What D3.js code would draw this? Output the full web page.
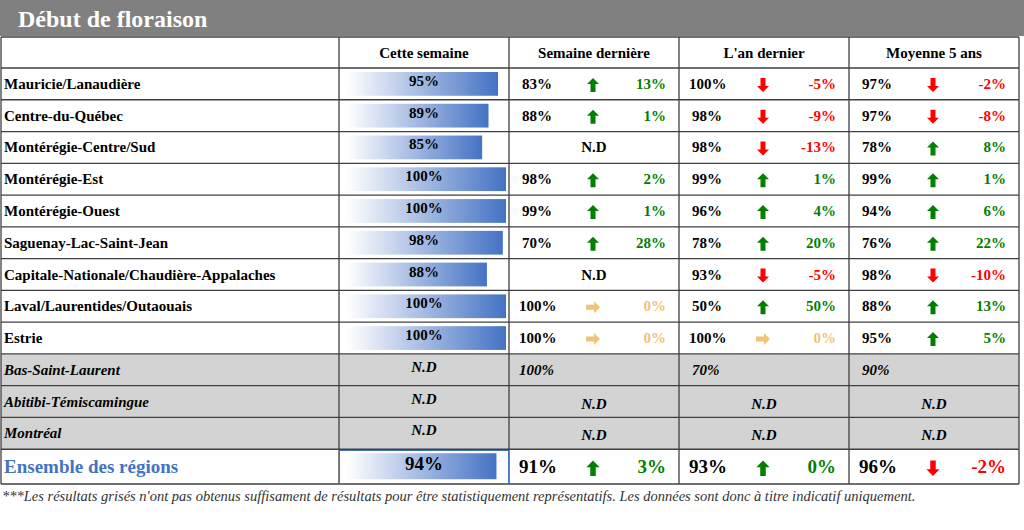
<!DOCTYPE html>
<html><head><meta charset="utf-8">
<script src="https://cdn.jsdelivr.net/npm/d3@7"></script>
<style>body{margin:0;background:#fff}svg{font-family:"Liberation Serif","Times New Roman",serif;font-weight:bold}</style>
</head><body><svg id="c" width="1024" height="530"></svg>
<script>
var regions = ["Mauricie/Lanaudière","Centre-du-Québec","Montérégie-Centre/Sud","Montérégie-Est","Montérégie-Ouest","Saguenay-Lac-Saint-Jean","Capitale-Nationale/Chaudière-Appalaches","Laval/Laurentides/Outaouais","Estrie","Bas-Saint-Laurent","Abitibi-Témiscamingue","Montréal","Ensemble des régions"]
var grayed = [false,false,false,false,false,false,false,false,false,true,true,true,false]
var thisWeek = [95,89,85,100,100,98,88,100,100,null,null,null,94]
// previous values and differences; null = N.D
var lastWeek = [83,88,null,98,99,70,null,100,100,100,null,null,91]
var lastWeekDiff = [13,1,null,2,1,28,null,0,0,null,null,null,3]
var lastYear = [100,98,98,99,96,78,93,50,100,70,null,null,93]
var lastYearDiff = [-5,-9,-13,1,4,20,-5,50,0,null,null,null,0]
var avg5 = [97,97,78,99,94,76,98,88,95,90,null,null,96]
var avg5Diff = [-2,-8,8,1,6,22,-10,13,5,null,null,null,-2]
// arrow direction: 1 up, -1 down, 0 right
var lastWeekDir = [1,1,null,1,1,1,null,0,0,null,null,null,1]
var lastYearDir = [-1,-1,-1,1,1,1,-1,1,0,null,null,null,1]
var avg5Dir = [-1,-1,1,1,1,1,-1,1,1,null,null,null,-1]
var headers = ["Cette semaine","Semaine dernière","L'an dernier","Moyenne 5 ans"]

var svg = d3.select("#c")
var colX = [1,339,509,679,849,1019]
var y = d3.scaleBand().domain(d3.range(regions.length)).range([68,484]).paddingInner(0)
function rowH(i){ return i==12 ? 34 : 31.77 }
function rowY(i){ return 68 + i*31.77 }
var barW = d3.scaleLinear().domain([0,100]).range([0,159])

var defs = svg.append("defs")
var g = defs.append("linearGradient").attr("id","bg")
g.append("stop").attr("offset","0%").attr("stop-color","#ffffff")
g.append("stop").attr("offset","100%").attr("stop-color","#4472c4")

svg.append("rect").attr("x",0).attr("y",0).attr("width",1024).attr("height",36).attr("fill","#808080")
svg.append("text").attr("x",18).attr("y",27).attr("fill","#fff").attr("font-size",24).text("Début de floraison")

// header
headers.forEach(function(h,k){
  svg.append("text").attr("x",(colX[k+1]+colX[k+2])/2).attr("y",58).attr("text-anchor","middle").attr("font-size",15).text(h)
})

var green="#008000", red="#ff0000", yellow="#f0c27a"
function arrow(cx,cy,dir,s){
  var col = dir==1?green:dir==-1?red:yellow
  var p = "M0,-7 L6,-1 L2.5,-1 L2.5,7 L-2.5,7 L-2.5,-1 L-6,-1 Z"
  var rot = dir==1?0:dir==-1?180:90
  svg.append("path").attr("d",p).attr("fill",col)
    .attr("transform","translate("+cx+","+cy+") rotate("+rot+") scale("+s+")")
  return col
}

regions.forEach(function(r,i){
  var y0 = rowY(i), h = rowH(i), big = i==12
  var fs = big?19:15, ty = y0 + h/2 + (big?7:5)
  if (grayed[i]) svg.append("rect").attr("x",1).attr("y",y0).attr("width",1018).attr("height",h).attr("fill","#d3d3d3")
  svg.append("text").attr("x",4).attr("y",ty).attr("font-size",big?19:15)
    .attr("fill",big?"#4472c4":"#000").attr("font-style",grayed[i]?"italic":null).text(r)
  // this week
  if (thisWeek[i]!=null){
    svg.append("rect").attr("x",347).attr("y",y0+4).attr("width",barW(thisWeek[i])).attr("height",h-8).attr("fill","url(#bg)")
    svg.append("text").attr("x",424).attr("y",y0+h/2+(big?4:2)).attr("text-anchor","middle").attr("font-size",fs).text(thisWeek[i]+"%")
  } else {
    svg.append("text").attr("x",424).attr("y",y0+h/2+2).attr("text-anchor","middle").attr("font-style","italic").attr("font-size",15).text("N.D")
  }
  var sets = [[lastWeek,lastWeekDiff,lastWeekDir],[lastYear,lastYearDiff,lastYearDir],[avg5,avg5Diff,avg5Dir]]
  sets.forEach(function(s,k){
    var x0 = colX[k+2], x1 = colX[k+3], v = s[0][i]
    if (v==null){
      svg.append("text").attr("x",(x0+x1)/2).attr("y",ty+(grayed[i]?2:0)).attr("text-anchor","middle")
        .attr("font-style",grayed[i]?"italic":null).attr("font-size",15).text("N.D")
      return
    }
    svg.append("text").attr("x",x0+(v==100||big?10:13)).attr("y",ty).attr("font-size",fs)
      .attr("font-style",grayed[i]?"italic":null).text(v+"%")
    if (s[2][i]!=null){
      var col = arrow(x0+84,y0+h/2+(big?2:1),s[2][i],big?1.1:1)
      svg.append("text").attr("x",x1-13).attr("y",ty).attr("text-anchor","end").attr("font-size",fs)
        .attr("fill",col).text(s[1][i]+"%")
    }
  })
})

// grid lines
var ys = d3.range(regions.length+1).map(rowY); ys[13]=484
var lines = svg.append("g").attr("stroke","#404040").attr("stroke-width",1.3)
lines.append("line").attr("x1",1).attr("x2",1019).attr("y1",37).attr("y2",37)
ys.forEach(function(v){ lines.append("line").attr("x1",1).attr("x2",1019).attr("y1",v).attr("y2",v) })
colX.forEach(function(x,k){
  var top = k==0||k==5||k>=1 ? 37 : 68
  lines.append("line").attr("x1",x).attr("x2",x).attr("y1",top).attr("y2",484)
})
svg.append("rect").attr("x",339.5).attr("y",450.5).attr("width",169).attr("height",33).attr("fill","none").attr("stroke","#4472c4")

svg.append("text").attr("x",2).attr("y",501).attr("font-size",14.5).attr("font-weight","normal").attr("font-style","italic")
  .attr("fill","#333").text("***Les résultats grisés n'ont pas obtenus suffisament de résultats pour être statistiquement représentatifs. Les données sont donc à titre indicatif uniquement.")
</script></body></html>
